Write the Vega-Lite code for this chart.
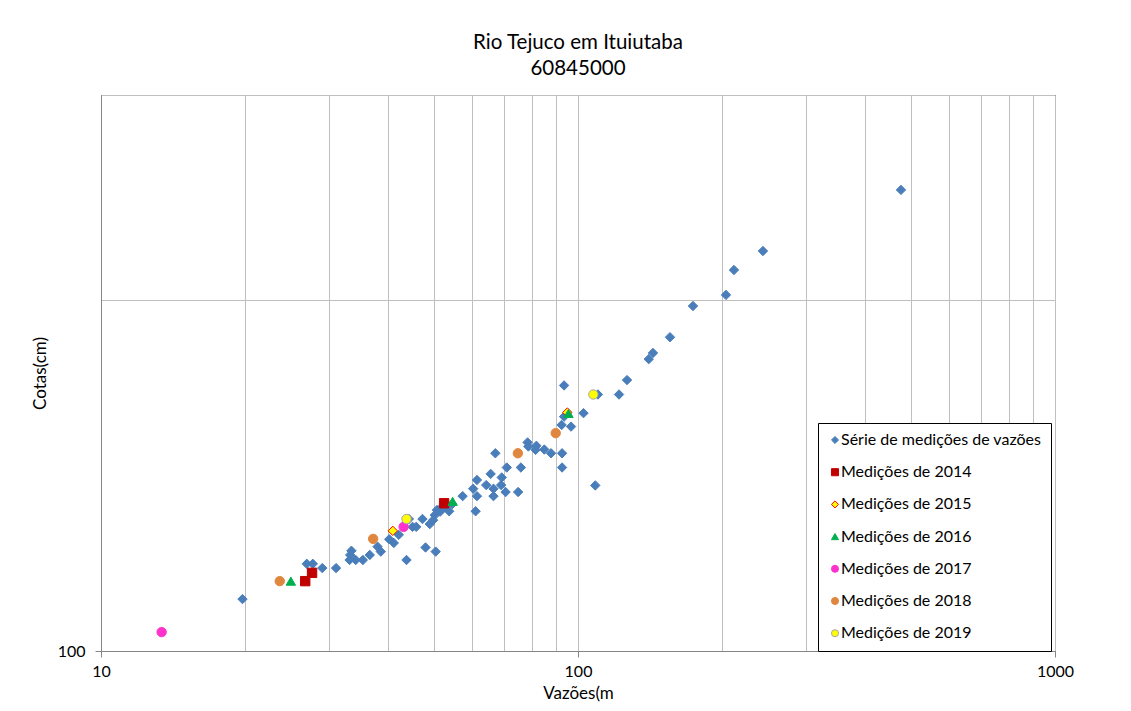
{
  "$schema": "https://vega.github.io/schema/vega-lite/v6.json",
  "autosize": {"type": "none"},
  "width": 954,
  "height": 556,
  "padding": {"left": 101, "top": 95, "right": 76, "bottom": 60},
  "background": "#ffffff",
  "config": {
    "font": "Lato",
    "view": {"stroke": "#000000", "strokeWidth": 1},
    "axis": {"labelFont": "Lato", "titleFont": "Lato", "labelColor": "#000000", "titleColor": "#000000", "titleFontWeight": "normal", "labelFontSize": 16, "titleFontSize": 17, "domainColor": "#868686", "tickColor": "#868686", "gridColor": "#BFBFBF", "gridWidth": 1, "gridOpacity": 1},
    "legend": {"title": null, "orient": "none", "legendX": 717, "legendY": 328, "strokeColor": "#000000", "fillColor": "#ffffff", "padding": 9, "labelFont": "Lato", "labelFontSize": 16, "labelColor": "#000000", "symbolSize": 50, "rowPadding": 16.2, "labelOffset": -2, "symbolStrokeWidth": 1, "labelLimit": 300}
  },
  "title": {"text": ["Rio Tejuco em Ituiutaba", "60845000"], "font": "Lato", "fontSize": 20.5, "fontWeight": "normal", "color": "#000000", "anchor": "middle", "frame": "group", "lineHeight": 26, "offset": 8},
  "data": {"values": [
    {"s": "Série de medições de vazões", "q": 475.4, "h": 248.7},
    {"s": "Série de medições de vazões", "q": 244.2, "h": 220.4},
    {"s": "Série de medições de vazões", "q": 212.3, "h": 212.3},
    {"s": "Série de medições de vazões", "q": 204.3, "h": 202.1},
    {"s": "Série de medições de vazões", "q": 174.2, "h": 197.7},
    {"s": "Série de medições de vazões", "q": 155.9, "h": 185.9},
    {"s": "Série de medições de vazões", "q": 143.6, "h": 180.2},
    {"s": "Série de medições de vazões", "q": 140.7, "h": 178.0},
    {"s": "Série de medições de vazões", "q": 126.7, "h": 170.8},
    {"s": "Série de medições de vazões", "q": 121.9, "h": 166.0},
    {"s": "Série de medições de vazões", "q": 110.1, "h": 166.0},
    {"s": "Série de medições de vazões", "q": 93.5, "h": 169.0},
    {"s": "Série de medições de vazões", "q": 102.7, "h": 160.0},
    {"s": "Série de medições de vazões", "q": 93.5, "h": 158.9},
    {"s": "Série de medições de vazões", "q": 92.4, "h": 156.3},
    {"s": "Série de medições de vazões", "q": 96.7, "h": 155.8},
    {"s": "Série de medições de vazões", "q": 78.4, "h": 151.0},
    {"s": "Série de medições de vazões", "q": 78.7, "h": 149.8},
    {"s": "Série de medições de vazões", "q": 81.8, "h": 150.0},
    {"s": "Série de medições de vazões", "q": 81.5, "h": 148.8},
    {"s": "Série de medições de vazões", "q": 85.0, "h": 148.9},
    {"s": "Série de medições de vazões", "q": 87.8, "h": 147.8},
    {"s": "Série de medições de vazões", "q": 92.6, "h": 147.8},
    {"s": "Série de medições de vazões", "q": 67.1, "h": 147.8},
    {"s": "Série de medições de vazões", "q": 70.9, "h": 143.7},
    {"s": "Série de medições de vazões", "q": 75.9, "h": 143.7},
    {"s": "Série de medições de vazões", "q": 92.6, "h": 143.7},
    {"s": "Série de medições de vazões", "q": 65.6, "h": 141.9},
    {"s": "Série de medições de vazões", "q": 61.4, "h": 140.2},
    {"s": "Série de medições de vazões", "q": 69.2, "h": 140.9},
    {"s": "Série de medições de vazões", "q": 64.2, "h": 138.8},
    {"s": "Série de medições de vazões", "q": 69.0, "h": 138.8},
    {"s": "Série de medições de vazões", "q": 60.3, "h": 137.8},
    {"s": "Série de medições de vazões", "q": 66.5, "h": 137.8},
    {"s": "Série de medições de vazões", "q": 70.5, "h": 136.9},
    {"s": "Série de medições de vazões", "q": 74.9, "h": 136.9},
    {"s": "Série de medições de vazões", "q": 108.7, "h": 138.7},
    {"s": "Série de medições de vazões", "q": 57.3, "h": 135.8},
    {"s": "Série de medições de vazões", "q": 61.4, "h": 135.8},
    {"s": "Série de medições de vazões", "q": 66.5, "h": 135.8},
    {"s": "Série de medições de vazões", "q": 54.5, "h": 133.7},
    {"s": "Série de medições de vazões", "q": 53.7, "h": 131.8},
    {"s": "Série de medições de vazões", "q": 61.0, "h": 131.8},
    {"s": "Série de medições de vazões", "q": 50.6, "h": 132.1},
    {"s": "Série de medições de vazões", "q": 51.4, "h": 131.7},
    {"s": "Série de medições de vazões", "q": 50.1, "h": 130.8},
    {"s": "Série de medições de vazões", "q": 49.7, "h": 129.5},
    {"s": "Série de medições de vazões", "q": 48.9, "h": 128.5},
    {"s": "Série de medições de vazões", "q": 47.2, "h": 129.8},
    {"s": "Série de medições de vazões", "q": 44.2, "h": 129.8},
    {"s": "Série de medições de vazões", "q": 45.0, "h": 127.8},
    {"s": "Série de medições de vazões", "q": 45.8, "h": 127.8},
    {"s": "Série de medições de vazões", "q": 42.1, "h": 125.8},
    {"s": "Série de medições de vazões", "q": 41.1, "h": 123.8},
    {"s": "Série de medições de vazões", "q": 40.2, "h": 124.7},
    {"s": "Série de medições de vazões", "q": 38.0, "h": 122.9},
    {"s": "Série de medições de vazões", "q": 38.6, "h": 121.7},
    {"s": "Série de medições de vazões", "q": 36.6, "h": 120.9},
    {"s": "Série de medições de vazões", "q": 35.4, "h": 119.7},
    {"s": "Série de medições de vazões", "q": 34.2, "h": 119.7},
    {"s": "Série de medições de vazões", "q": 33.2, "h": 119.7},
    {"s": "Série de medições de vazões", "q": 33.5, "h": 121.9},
    {"s": "Série de medições de vazões", "q": 33.3, "h": 120.9},
    {"s": "Série de medições de vazões", "q": 47.9, "h": 122.7},
    {"s": "Série de medições de vazões", "q": 50.3, "h": 121.7},
    {"s": "Série de medições de vazões", "q": 43.7, "h": 119.7},
    {"s": "Série de medições de vazões", "q": 31.1, "h": 117.8},
    {"s": "Série de medições de vazões", "q": 29.1, "h": 117.8},
    {"s": "Série de medições de vazões", "q": 27.8, "h": 118.8},
    {"s": "Série de medições de vazões", "q": 27.0, "h": 118.8},
    {"s": "Série de medições de vazões", "q": 19.8, "h": 110.8},
    {"s": "Série de medições de vazões", "q": 50.9, "h": 132.1},
    {"s": "Série de medições de vazões", "q": 51.8, "h": 132.3},
    {"s": "Série de medições de vazões", "q": 52.6, "h": 132.9},
    {"s": "Medições de 2014", "q": 26.8, "h": 114.8},
    {"s": "Medições de 2014", "q": 27.7, "h": 116.7},
    {"s": "Medições de 2014", "q": 52.4, "h": 133.9},
    {"s": "Medições de 2015", "q": 40.9, "h": 126.8},
    {"s": "Medições de 2015", "q": 95.0, "h": 160.2},
    {"s": "Medições de 2016", "q": 25.0, "h": 114.8},
    {"s": "Medições de 2016", "q": 54.6, "h": 134.4},
    {"s": "Medições de 2016", "q": 95.5, "h": 159.9},
    {"s": "Medições de 2017", "q": 13.4, "h": 103.8},
    {"s": "Medições de 2017", "q": 43.1, "h": 127.8},
    {"s": "Medições de 2018", "q": 23.7, "h": 114.8},
    {"s": "Medições de 2018", "q": 37.2, "h": 124.8},
    {"s": "Medições de 2018", "q": 74.8, "h": 147.8},
    {"s": "Medições de 2018", "q": 89.8, "h": 153.8},
    {"s": "Medições de 2019", "q": 43.7, "h": 129.8},
    {"s": "Medições de 2019", "q": 107.7, "h": 166.0}
  ]},
  "mark": {"type": "point", "filled": true, "opacity": 1, "strokeWidth": 1, "size": 88},
  "encoding": {
    "x": {"field": "q", "type": "quantitative", "title": "Vazões(m",
      "scale": {"type": "log", "domain": [10, 1000], "nice": false},
      "axis": {"values": [10, 20, 30, 40, 50, 60, 70, 80, 90, 100, 200, 300, 400, 500, 600, 700, 800, 900, 1000],
        "labelExpr": "(datum.value == 10 || datum.value == 100 || datum.value == 1000) ? format(datum.value, 'd') : ''",
        "tickOpacity": {"condition": {"test": "datum.value == 10 || datum.value == 100 || datum.value == 1000", "value": 1}, "value": 0},
        "tickSize": 6, "labelPadding": 6, "labelFlush": false, "labelOverlap": false, "labelBound": false, "titlePadding": 6, "grid": true}},
    "y": {"field": "h", "type": "quantitative", "title": "Cotas(cm)",
      "scale": {"type": "log", "domain": [100, 300], "nice": false},
      "axis": {"values": [100, 200, 300],
        "labelExpr": "datum.value == 100 ? '100' : ''",
        "tickOpacity": {"condition": {"test": "datum.value == 100", "value": 1}, "value": 0},
        "tickSize": 6, "labelPadding": 10, "labelFlush": false, "labelOverlap": false, "titlePadding": 8, "grid": true}},
    "fill": {"field": "s", "type": "nominal",
      "scale": {"domain": ["Série de medições de vazões", "Medições de 2014", "Medições de 2015", "Medições de 2016", "Medições de 2017", "Medições de 2018", "Medições de 2019"],
        "range": ["#4A7EBB", "#C00000", "#FFFF00", "#00B050", "#FF33CC", "#E0873F", "#FFFF00"]}},
    "stroke": {"field": "s", "type": "nominal",
      "scale": {"domain": ["Série de medições de vazões", "Medições de 2014", "Medições de 2015", "Medições de 2016", "Medições de 2017", "Medições de 2018", "Medições de 2019"],
        "range": ["#4A7EBB", "#C00000", "#FF0000", "#00B050", "#FF33CC", "#E0873F", "#A6A6A6"]}},
    "shape": {"field": "s", "type": "nominal",
      "scale": {"domain": ["Série de medições de vazões", "Medições de 2014", "Medições de 2015", "Medições de 2016", "Medições de 2017", "Medições de 2018", "Medições de 2019"],
        "range": ["diamond", "square", "diamond", "triangle-up", "circle", "circle", "circle"]}}
  }
}
